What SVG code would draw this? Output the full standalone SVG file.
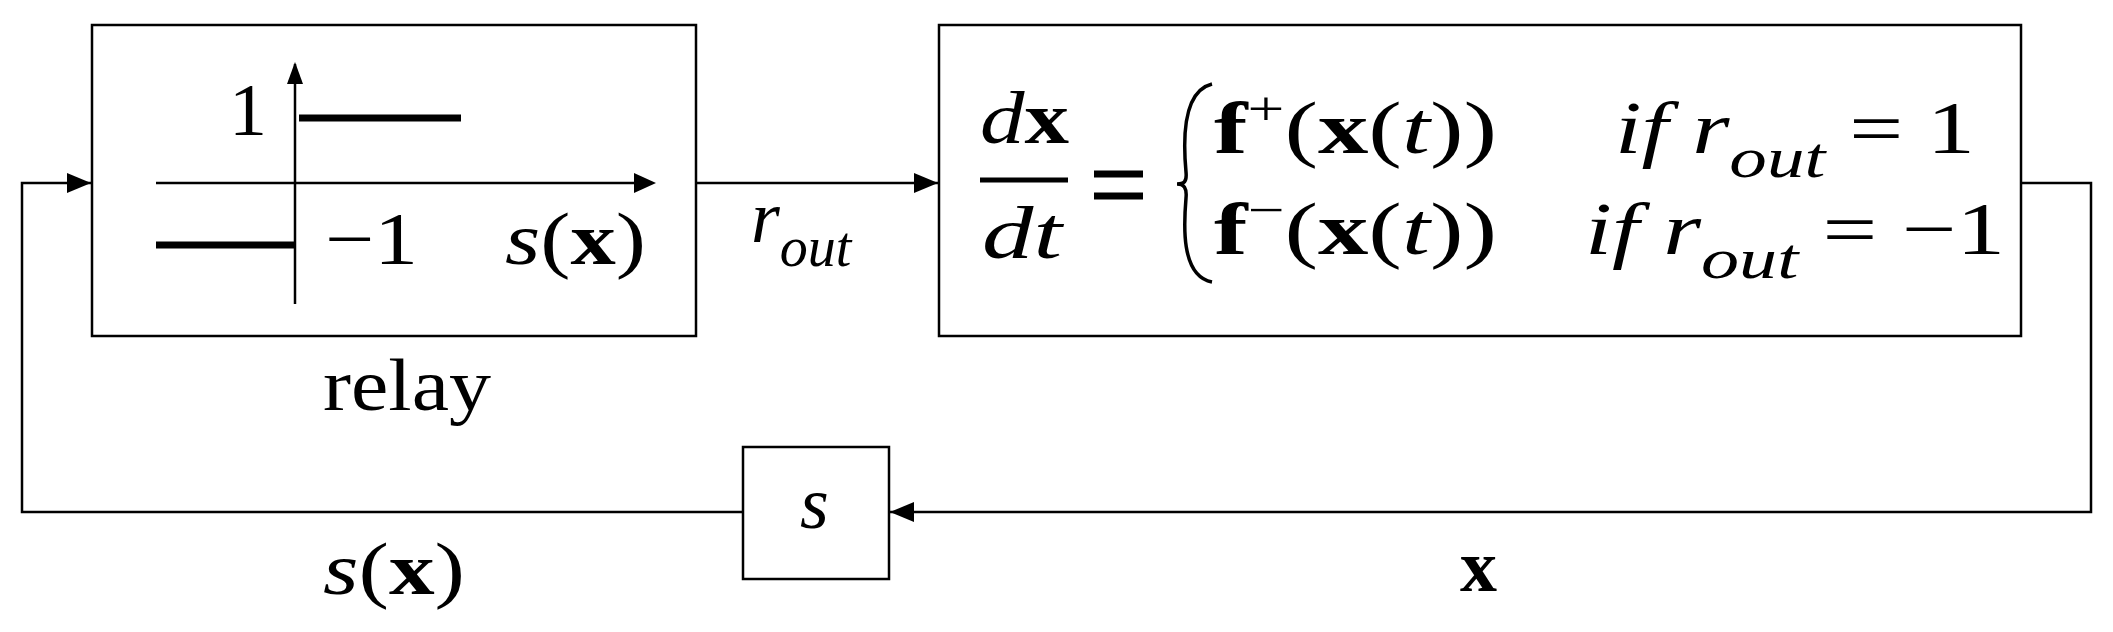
<svg xmlns="http://www.w3.org/2000/svg" width="2113" height="632" viewBox="0 0 2113 632">
<style>
text{font-family:"Liberation Serif","DejaVu Serif",serif;font-size:74px;fill:#000}
.i{font-style:italic}.b{font-weight:bold}
.box{fill:#fff;stroke:#000;stroke-width:2.5}
.ln{fill:none;stroke:#000;stroke-width:2.5}
</style>
<defs>
<marker id="ab" markerWidth="24" markerHeight="20" refX="24" refY="10" orient="auto" markerUnits="userSpaceOnUse"><path d="M0,0 L24,10 L0,20 Z" fill="#000"/></marker>
</defs>
<g id="connectors">
<path class="ln" d="M696,183 H938" marker-end="url(#ab)"/>
<path class="ln" d="M2021,183 H2091 V512 H890" marker-end="url(#ab)"/>
<path class="ln" d="M742,512 H22 V183 H91" marker-end="url(#ab)"/>
</g>
<g id="relay">
<rect class="box" x="92" y="25" width="604" height="311"/>
<path class="ln" d="M295,304 V64"/>
<path d="M295,62 l-8,22 h16 z" fill="#000"/>
<path class="ln" d="M156,183 H640"/>
<path d="M656,183 l-22,-10 v20 z" fill="#000"/>
<path d="M299,118 H461 M156,245 H295" stroke="#000" stroke-width="7"/>
<text x="229" y="135" textLength="38" lengthAdjust="spacingAndGlyphs">1</text>
<text x="325" y="264" textLength="93" lengthAdjust="spacingAndGlyphs">−1</text>
<text x="505" y="264" textLength="141" lengthAdjust="spacingAndGlyphs"><tspan class="i">s</tspan>(<tspan class="b">x</tspan>)</text>
<text x="323" y="410" textLength="168" lengthAdjust="spacingAndGlyphs">relay</text>
</g>
<text id="rout" x="751" y="242" class="i">r<tspan font-size="56" dy="24">out</tspan></text>
<g id="dynamics">
<rect class="box" x="939" y="25" width="1082" height="311"/>
<text x="980" y="143" textLength="89" lengthAdjust="spacingAndGlyphs"><tspan class="i">d</tspan><tspan class="b">x</tspan></text>
<path d="M980,180 H1068" stroke="#000" stroke-width="5"/>
<text x="982" y="258" class="i" textLength="80" lengthAdjust="spacingAndGlyphs">dt</text>
<path d="M1094,174 H1143 M1094,196 H1143" stroke="#000" stroke-width="7"/>
<path d="M1212,84 C1180,92 1184,150 1186,172 C1187,182 1184,184 1177,184 C1184,184 1187,188 1186,198 C1184,222 1180,276 1212,282" fill="none" stroke="#000" stroke-width="3.5"/>
<text x="1214" y="153" textLength="283" lengthAdjust="spacingAndGlyphs"><tspan class="b">f</tspan><tspan font-size="48" dy="-28">+</tspan><tspan dy="28">(</tspan><tspan class="b">x</tspan>(<tspan class="i">t</tspan>))</text>
<text x="1615" y="153" textLength="360" lengthAdjust="spacingAndGlyphs"><tspan class="i">if r</tspan><tspan class="i" font-size="58" dy="24">out</tspan><tspan dy="-24"> = 1</tspan></text>
<text x="1214" y="254" textLength="283" lengthAdjust="spacingAndGlyphs"><tspan class="b">f</tspan><tspan font-size="48" dy="-28">−</tspan><tspan dy="28">(</tspan><tspan class="b">x</tspan>(<tspan class="i">t</tspan>))</text>
<text x="1585" y="254" textLength="420" lengthAdjust="spacingAndGlyphs"><tspan class="i">if r</tspan><tspan class="i" font-size="58" dy="24">out</tspan><tspan dy="-24"> = −1</tspan></text>
</g>
<g id="s">
<rect class="box" x="743" y="447" width="146" height="132"/>
<text x="800" y="528" class="i">s</text>
</g>
<text id="sx" x="323" y="594" textLength="142" lengthAdjust="spacingAndGlyphs"><tspan class="i">s</tspan>(<tspan class="b">x</tspan>)</text>
<text id="x" x="1460" y="591" class="b">x</text>
</svg>
